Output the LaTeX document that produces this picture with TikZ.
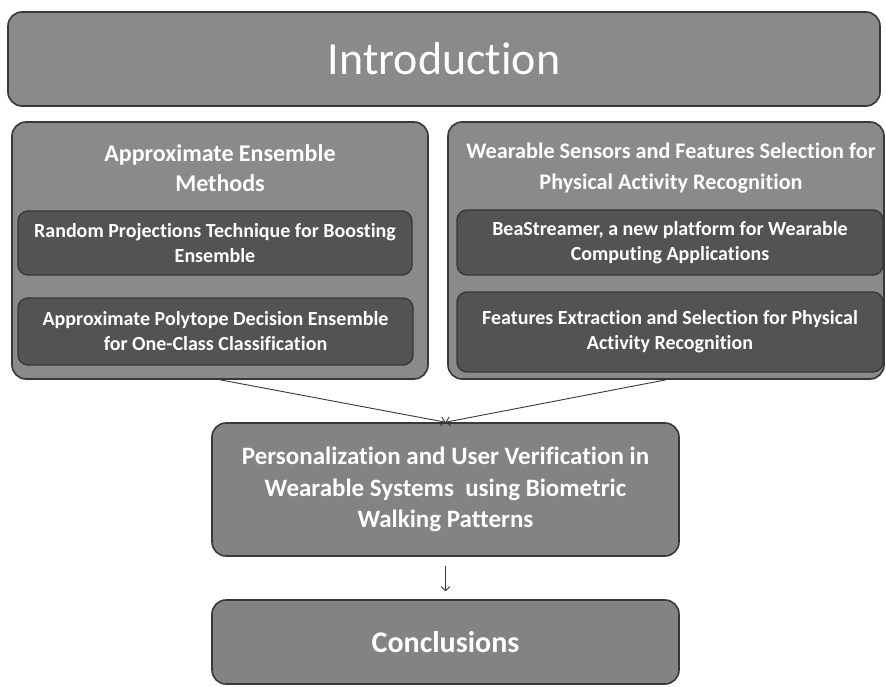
\documentclass[tikz,border=0pt]{standalone}
\usepackage{fontspec}
\setmainfont{Carlito}[Ligatures=NoCommon]
\usepackage{xcolor}
\usetikzlibrary{arrows.meta}

\definecolor{boxgray}{HTML}{8A8A8A}
\definecolor{darkbox}{HTML}{535353}
\definecolor{edgegray}{HTML}{383838}

\begin{document}
\begin{tikzpicture}[x=1pt,y=-1pt]
    \useasboundingbox (0,0) rectangle (886,687);

    % outer boxes
    \begin{scope}[every node/.style = {rectangle, rounded corners=14pt, draw=edgegray,
                        line width=1.6pt, fill=boxgray, text=white, align=center, inner sep=0pt}]
        \node[minimum width=872pt, minimum height=94pt,
              font=\fontsize{46}{50}\selectfont] (Intro) at (444,59) {Introduction};
        \node[minimum width=416pt, minimum height=257pt] (AEM) at (220,250.5) {};
        \node[minimum width=436pt, minimum height=257pt] (WSF) at (666,250.5) {};
        \node[minimum width=467pt, minimum height=133pt, fill=boxgray!95!black,
              font=\fontsize{25}{31.5}\selectfont\bfseries] (PUV) at (445.5,489.5)
              {Personalization and User Verification in\\Wearable Systems \ using Biometric\\Walking Patterns};
        \node[minimum width=467pt, minimum height=84pt, fill=boxgray!95!black,
              font=\fontsize{30}{36}\selectfont\bfseries] (Concl) at (445.5,642) {Conclusions};
    \end{scope}

    % titles of the two groups
    \begin{scope}[every node/.style = {text=white, align=center, inner sep=0pt,
                        font=\fontsize{24}{30.5}\selectfont\bfseries}]
        \node (AEMt) at (220,168) {Approximate Ensemble\\Methods};
        \node[font=\fontsize{22.2}{30.5}\selectfont\bfseries] (WSFt) at (671,168)
              {Wearable Sensors and Features Selection for\\Physical Activity Recognition};
    \end{scope}

    % chapters inside the groups
    \begin{scope}[every node/.style = {rectangle, rounded corners=10pt, draw=edgegray,
                        line width=1.4pt, fill=darkbox, text=white, align=center, inner sep=0pt,
                        font=\fontsize{20}{25}\selectfont\bfseries}]
        \node[minimum width=394pt, minimum height=64pt] (RPT) at (215,243)
              {Random Projections Technique for Boosting\\Ensemble};
        \node[minimum width=395pt, minimum height=67pt] (APD) at (215.5,331.5)
              {Approximate Polytope Decision Ensemble\\for One-Class Classification};
        \node[minimum width=426pt, minimum height=65pt] (BEA) at (670,242.5)
              {BeaStreamer, a new platform for Wearable\\Computing Applications};
        \node[minimum width=426pt, minimum height=80pt] (FES) at (670,332)
              {Features Extraction and Selection for Physical\\Activity Recognition};
    \end{scope}

    \begin{scope}[>={Straight Barb[length=4pt,width=9pt]}, edgegray, line width=0.9pt]
        \path [->] (AEM.south) edge (PUV.north);
        \path [->] (WSF.south) edge (PUV.north);
        \path [->] (PUV.south) edge[shorten <=9pt, shorten >=8pt] (Concl.north);
    \end{scope}
\end{tikzpicture}
\end{document}
